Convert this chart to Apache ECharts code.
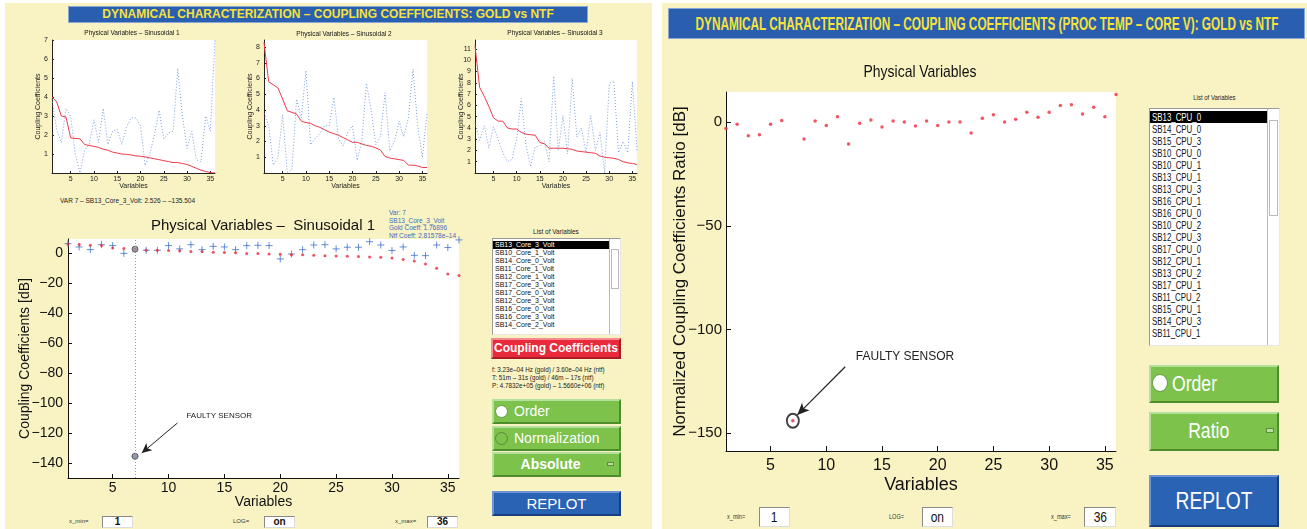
<!DOCTYPE html>
<html lang="en">
<head>
<meta charset="UTF-8">
<script src="https://cdn.jsdelivr.net/npm/echarts@6/dist/echarts.min.js"></script>
<style>
  body { margin: 0; width: 1307px; height: 529px; background: #fff; overflow: hidden;
         font-family: "Liberation Sans", Arial, sans-serif; }
  .abs { position: absolute; }
  .panel { position: absolute; background: #f9f3c3; }
  .bar { position: absolute; background: #2a5eae; color: #f6e23a; text-align: center;
         border: 1px solid #8aa6d6; box-sizing: border-box; white-space: nowrap; overflow: hidden; }
  .list { position: absolute; background: #fff; border: 1px solid #9a9a9a; box-sizing: border-box;
          border-right-color: #e8e8e8; border-bottom-color: #e8e8e8; overflow: hidden; }
  .list div { white-space: nowrap; padding-left: 2px; color: #111; }
  .list div.sel { background: #000; color: #fff; }
  .sb { position: absolute; top: 0; right: 0; bottom: 0; background: #fff; border-left: 1px solid #bbb; }
  .green { position: absolute; background: #7dc24b; box-sizing: border-box; color: #fff; white-space: nowrap;
           border: 2px solid; border-color: #b3e09a #4f8d2c #4f8d2c #b3e09a; }
  .red { position: absolute; background: #e92a3b; box-sizing: border-box; color: #fff; font-weight: bold;
         border: 2px solid; border-color: #f58a94 #a81c28 #a81c28 #f58a94; text-align: center; }
  .blue { position: absolute; background: #2a62b4; box-sizing: border-box; color: #fff; text-align: center;
          border: 2px solid; border-color: #6d95d6 #183f7d #183f7d #6d95d6; }
  .radio { position: absolute; border-radius: 50%; box-sizing: border-box; }
  .ind { position: absolute; background: #b9dda0; border: 1px solid #5b8f3a; box-sizing: border-box; }
  .box { position: absolute; background: #fff; border: 1px solid #888; box-sizing: border-box;
         border-right-color: #ddd; border-bottom-color: #ddd; text-align: center; font-weight: bold; color: #111; }
  .tiny { position: absolute; font-size: 6px; color: #333; white-space: nowrap; }
  .nx { display: inline-block; transform: scaleX(0.8); transform-origin: left center; }
  .nc { display: inline-block; transform: scaleX(0.8); transform-origin: center center; }
</style>
</head>
<body>
  <div class="panel" style="left:5px;top:3px;width:647px;height:526px"></div>
  <div class="panel" style="left:662px;top:3px;width:645px;height:526px"></div>

  <div class="bar" style="left:68px;top:6px;width:520px;height:17px;font-size:12px;font-weight:bold;line-height:15px">DYNAMICAL CHARACTERIZATION – COUPLING COEFFICIENTS: GOLD vs NTF</div>
  <div class="bar" style="left:668px;top:8px;width:637px;height:31px">
    <div style="position:absolute;left:50%;top:5px;font-size:18px;font-weight:bold;line-height:20px;transform:translateX(-50%) scaleX(0.655)">DYNAMICAL CHARACTERIZATION – COUPLING COEFFICIENTS (PROC TEMP – CORE V): GOLD vs NTF</div>
  </div>

  <div class="abs" style="left:60px;top:197px;font-size:6.5px;color:#222">VAR 7 – SB13_Core_3_Volt: 2.526 – –135.504</div>
  <div class="abs" style="left:389px;top:209px;font-size:6.5px;line-height:7.6px;color:#3b6dc1">Var: 7<br>SB13_Core_3_Volt<br>Gold Coeff: 1.76896<br>Ntf Coeff: 2.81578e–14</div>

  <!-- left controls -->
  <div class="abs" style="left:492px;top:228px;width:128px;text-align:center;font-size:6.5px;color:#222">List of Variables</div>
  <div class="list" id="listL" style="left:492px;top:238px;width:129px;height:97px;font-size:7px;line-height:8px;padding-top:2px"></div>
  <div class="red" style="left:491px;top:338px;width:130px;height:21px;font-size:12px;line-height:17px">Coupling Coefficients</div>
  <div class="abs" style="left:492px;top:366px;font-size:6.3px;line-height:8px;color:#222">f: 3.23e–04 Hz (gold) / 3.60e–04 Hz (ntf)<br>T: 51m – 31s (gold) / 46m – 17s (ntf)<br>P: 4.7832e+05 (gold) – 1.5660e+06 (ntf)</div>
  <div class="green" style="left:492px;top:399px;width:129px;height:25px;font-size:14px;line-height:21px;padding-left:20px">Order</div>
  <div class="radio" style="left:495px;top:405px;width:13px;height:13px;background:#fff;border:1px solid #6a9a4a"></div>
  <div class="green" style="left:492px;top:426px;width:129px;height:25px;font-size:14px;line-height:21px;padding-left:20px">Normalization</div>
  <div class="radio" style="left:495px;top:432px;width:13px;height:13px;border:1px solid #5b8a3a"></div>
  <div class="green" style="left:492px;top:452px;width:129px;height:25px;font-size:14px;line-height:21px;font-weight:bold;text-align:center;padding-right:12px">Absolute</div>
  <div class="ind" style="left:607px;top:462px;width:7px;height:4px"></div>
  <div class="blue" style="left:492px;top:491px;width:129px;height:25px;font-size:15px;line-height:21px">REPLOT</div>

  <div class="tiny" style="left:69px;top:518px">x_min=</div>
  <div class="box" style="left:102px;top:516px;width:31px;height:12px;font-size:10px;line-height:10px">1</div>
  <div class="tiny" style="left:233px;top:518px">LOG=</div>
  <div class="box" style="left:264px;top:516px;width:31px;height:12px;font-size:10px;line-height:10px">on</div>
  <div class="tiny" style="left:395px;top:518px">x_max=</div>
  <div class="box" style="left:427px;top:516px;width:31px;height:12px;font-size:10px;line-height:10px">36</div>

  <!-- right controls -->
  <div class="abs" style="left:1149px;top:93px;width:130px;text-align:center;font-size:7.5px;color:#222"><span class="nc">List of Variables</span></div>
  <div class="list" id="listR" style="left:1149px;top:108px;width:131px;height:238px;font-size:10.5px;line-height:12px;padding-top:2px"></div>
  <div class="green" style="left:1149px;top:365px;width:130px;height:38px;font-size:22px;line-height:33px;padding-left:21px"><span class="nx">Order</span></div>
  <div class="radio" style="left:1152px;top:374px;width:16px;height:18px;background:#fff;border:1px solid #6a9a4a"></div>
  <div class="green" style="left:1149px;top:412px;width:130px;height:39px;font-size:22px;line-height:34px;text-align:center;padding-right:10px"><span class="nc">Ratio</span></div>
  <div class="ind" style="left:1266px;top:428px;width:8px;height:5px"></div>
  <div class="blue" style="left:1149px;top:475px;width:130px;height:52px;font-size:24px;line-height:47px"><span class="nc">REPLOT</span></div>

  <div class="tiny" style="left:727px;top:513px;font-size:7px"><span class="nx">x_min=</span></div>
  <div class="box" style="left:759px;top:507px;width:31px;height:20px;font-size:15px;line-height:18px;font-weight:normal"><span class="nc">1</span></div>
  <div class="tiny" style="left:889px;top:513px;font-size:7px"><span class="nx">LOG=</span></div>
  <div class="box" style="left:922px;top:507px;width:31px;height:20px;font-size:15px;line-height:18px;font-weight:normal"><span class="nc">on</span></div>
  <div class="tiny" style="left:1051px;top:513px;font-size:7px"><span class="nx">x_max=</span></div>
  <div class="box" style="left:1084px;top:507px;width:32px;height:20px;font-size:15px;line-height:18px;font-weight:normal"><span class="nc">36</span></div>

  <div id="container" style="position:absolute;left:0;top:0;width:1307px;height:529px"></div>
  <script>
    // variable index (x) 1..36
    var xs = [1,2,3,4,5,6,7,8,9,10,11,12,13,14,15,16,17,18,19,20,21,22,23,24,25,26,27,28,29,30,31,32,33,34,35,36];

    // small charts: gold (red, sorted) and ntf (blue dotted)
    var sin1Gold = [4.0,3.75,3.0,2.95,1.85,1.82,1.8,1.5,1.45,1.4,1.35,1.25,1.2,1.1,1.05,1.0,0.98,0.95,0.9,0.88,0.85,0.8,0.75,0.7,0.65,0.6,0.55,0.55,0.5,0.45,0.35,0.25,0.15,0.08,0.02,0.0];
    var sin1Ntf = [3.9,2.3,1.6,3.4,3.0,1.0,0.0,1.2,1.5,2.8,1.6,3.4,1.5,2.2,2.3,1.5,2.4,2.9,2.9,2.5,0.4,1.0,2.0,3.3,1.8,2.1,2.2,5.5,3.0,1.3,2.2,0.7,0.6,3.0,2.2,7.0];
    var sin2Gold = [8.3,5.8,5.6,5.4,4.7,3.95,3.85,3.75,3.3,3.2,3.15,3.0,2.9,2.75,2.6,2.5,2.4,2.25,2.1,1.95,1.95,1.85,1.75,1.7,1.6,1.45,1.05,0.95,0.9,0.85,0.8,0.5,0.5,0.45,0.35,0.35];
    var sin2Ntf = [3.8,3.0,0.5,1.0,3.7,0.05,0.2,4.7,3.5,6.5,1.8,2.2,2.5,3.0,3.0,4.8,2.2,1.7,2.6,3.0,0.8,2.0,5.7,4.0,1.8,2.3,5.1,1.4,2.0,3.3,2.3,3.5,6.6,3.0,1.0,3.8];
    var sin3Gold = [11.3,7.6,6.8,5.9,4.9,4.6,4.6,4.0,3.9,3.9,3.6,3.45,3.4,3.35,2.7,2.6,2.2,2.2,2.2,2.2,2.15,2.1,1.95,1.9,1.85,1.8,1.75,1.5,1.4,1.35,1.3,1.2,1.0,0.9,0.85,0.75];
    var sin3Ntf = [4.5,2.9,4.2,2.2,4.1,3.0,1.8,1.0,1.2,3.0,6.6,2.5,0.6,2.3,2.4,2.8,1.0,8.6,2.0,5.1,1.7,8.4,3.2,4.0,1.8,5.1,2.0,3.6,0.0,7.9,8.2,1.8,2.8,1.8,8.1,2.0];

    // main left chart [dB]
    var dbGold = [6.0,5.6,5.1,4.9,3.3,2.9,2.526,1.8,1.8,1.6,1.5,0.9,1.0,0.5,0.3,0.2,-0.3,-0.4,-0.7,-0.8,-1.2,-1.2,-1.5,-1.8,-2.0,-2.2,-2.3,-2.7,-2.9,-3.4,-4.3,-5.4,-7.3,-10.2,-14.0,-15.0];
    var dbNtf = [6.2,4.0,2.2,5.5,4.9,-0.3,-135.504,1.8,1.8,4.9,2.7,5.5,2.2,4.4,4.0,2.2,4.9,5.1,4.9,-4.0,-0.7,2.2,5.3,5.5,2.7,3.8,3.8,7.5,5.3,1.6,4.0,-1.6,-1.8,5.3,3.6,8.7];
    var selVar = 7;

    // right chart: normalized ratio [dB]
    var ratioDb = [-3.1,-1.1,-6.6,-6.1,-1.1,0.8,-144,-8.2,0.5,-1.6,2.6,-10.6,-0.6,1.0,-2.4,0.5,0,-1.9,0.5,-1.6,0,0,-5.3,1.8,3.5,0,1.4,4.7,2.3,4.7,8.0,8.4,3.9,7.1,2.6,13.3];

    var listCore = ['SB13_Core_3_Volt','SB10_Core_1_Volt','SB14_Core_0_Volt','SB11_Core_1_Volt','SB12_Core_1_Volt','SB17_Core_3_Volt','SB17_Core_0_Volt','SB12_Core_3_Volt','SB16_Core_0_Volt','SB16_Core_3_Volt','SB14_Core_2_Volt'];
    var listCpu = ['SB13_CPU_0','SB14_CPU_0','SB15_CPU_3','SB10_CPU_0','SB10_CPU_1','SB13_CPU_1','SB13_CPU_3','SB16_CPU_1','SB16_CPU_0','SB10_CPU_2','SB12_CPU_3','SB17_CPU_0','SB12_CPU_1','SB13_CPU_2','SB17_CPU_1','SB11_CPU_2','SB15_CPU_1','SB14_CPU_3','SB11_CPU_1'];

    var xTicks = [5,10,15,20,25,30,35];

    function fillList(id, items, sbw, narrow) {
      var el = document.getElementById(id);
      var h = '';
      items.forEach(function (t, i) {
        var inner = narrow ? '<span class="nx" style="transform:scaleX(0.75)">' + t + '</span>' : t;
        h += '<div' + (i === 0 ? ' class="sel"' : '') + ' style="margin-right:' + (sbw + 2) + 'px">' + inner + '</div>';
      });
      h += '<div class="sb" style="width:' + sbw + 'px"><div style="position:absolute;left:1px;right:1px;top:' + (sbw + 2) + 'px;height:40%;border:1px solid #bbb"></div></div>';
      el.innerHTML = h;
    }
    fillList('listL', listCore, 8, false);
    fillList('listR', listCpu, 9, true);

    var pairs = function (arr) { return arr.map(function (v, i) { return [xs[i], v]; }); };
    var minus = function (v) { return String(v).replace('-', '\u2212'); };

    var SANS = '"Liberation Sans", Arial, sans-serif';

    var myChart = echarts.init(document.getElementById('container'), null, { renderer: 'canvas' });

    var smallGrids = [
      { left: 52, top: 40, width: 163, height: 133 },
      { left: 264, top: 40, width: 163, height: 133 },
      { left: 475, top: 40, width: 162, height: 133 }
    ];
    var smallMax = [7, 8.45, 11.8];
    var smallGold = [sin1Gold, sin2Gold, sin3Gold];
    var smallNtf = [sin1Ntf, sin2Ntf, sin3Ntf];

    var grids = [], xAxes = [], yAxes = [], series = [];
    smallGrids.forEach(function (g, k) {
      grids.push({ left: g.left, top: g.top, width: g.width, height: g.height, show: true, backgroundColor: '#fff', borderWidth: 0 });
      var yt = [];
      for (var v = 1; v <= Math.floor(smallMax[k]); v++) yt.push(v);
      xAxes.push({
        gridIndex: k, type: 'value', min: 1, max: 36,
        name: 'Variables', nameLocation: 'middle', nameGap: 10, nameMoveOverlap: false,
        nameTextStyle: { fontSize: 7, color: '#222', fontFamily: SANS },
        axisLine: { onZero: false, lineStyle: { color: '#222', width: 1 } },
        axisTick: { inside: true, length: 2, customValues: xTicks, lineStyle: { color: '#222' } },
        axisLabel: { customValues: xTicks, fontSize: 7, color: '#222', margin: 3, fontFamily: SANS },
        splitLine: { show: false }
      });
      yAxes.push({
        gridIndex: k, type: 'value', min: 0, max: smallMax[k],
        name: 'Coupling Coefficients', nameLocation: 'middle', nameGap: 10, nameRotate: 90, nameMoveOverlap: false,
        nameTextStyle: { fontSize: 7, color: '#222', fontFamily: SANS },
        axisLine: { show: true, onZero: false, lineStyle: { color: '#222', width: 1 } },
        axisTick: { show: true, inside: true, length: 2, customValues: yt, lineStyle: { color: '#222' } },
        axisLabel: { customValues: yt, fontSize: 7, color: '#222', margin: 4, fontFamily: SANS },
        splitLine: { show: false }
      });
      series.push({
        type: 'line', xAxisIndex: k, yAxisIndex: k, data: pairs(smallNtf[k]), showSymbol: false, silent: true,
        lineStyle: { color: '#7a9ddc', width: 1, type: [1, 2] }, z: 2
      });
      series.push({
        type: 'line', xAxisIndex: k, yAxisIndex: k, data: pairs(smallGold[k]), showSymbol: false, silent: true,
        lineStyle: { color: '#ec3b48', width: 1 }, z: 3
      });
    });

    // main left
    var yTicksL = [-140, -120, -100, -80, -60, -40, -20, 0];
    grids.push({ left: 68, top: 239, width: 391, height: 239, show: true, backgroundColor: '#fff', borderWidth: 0 });
    xAxes.push({
      gridIndex: 3, type: 'value', min: 1, max: 36,
      name: 'Variables', nameLocation: 'middle', nameGap: 17, nameMoveOverlap: false,
      nameTextStyle: { fontSize: 14, color: '#111', fontFamily: SANS },
      axisLine: { onZero: false, lineStyle: { color: '#111' } },
      axisTick: { inside: true, length: 4, customValues: xTicks, lineStyle: { color: '#111' } },
      axisLabel: { customValues: xTicks, fontSize: 14, color: '#111', margin: 3, fontFamily: SANS },
      splitLine: { show: false }
    });
    yAxes.push({
      gridIndex: 3, type: 'value', min: -150, max: 9.3,
      name: 'Coupling Coefficients [dB]', nameLocation: 'middle', nameGap: 36, nameRotate: 90, nameMoveOverlap: false,
      nameTextStyle: { fontSize: 14, color: '#111', fontFamily: SANS },
      axisLine: { show: true, onZero: false, lineStyle: { color: '#111' } },
      axisTick: { show: true, inside: true, length: 4, customValues: yTicksL, lineStyle: { color: '#111' } },
      axisLabel: { customValues: yTicksL, fontSize: 14, color: '#111', margin: 5, fontFamily: SANS, formatter: minus },
      splitLine: { show: false }
    });
    series.push({
      type: 'scatter', xAxisIndex: 3, yAxisIndex: 3, data: pairs(dbGold), symbol: 'circle', symbolSize: 3, silent: true,
      itemStyle: { color: '#e8283a' }, z: 3,
      markLine: {
        silent: true, symbol: 'none', label: { show: false },
        lineStyle: { color: '#9a9a9a', type: [1, 2], width: 1 },
        data: [{ xAxis: selVar }]
      }
    });
    series.push({
      type: 'scatter', xAxisIndex: 3, yAxisIndex: 3, data: pairs(dbNtf), symbol: 'path://M0,5L10,5M5,0L5,10',
      symbolSize: 7, silent: true, itemStyle: { color: 'rgba(0,0,0,0)', borderColor: '#3f72c8', borderWidth: 1 }, z: 2
    });
    series.push({
      type: 'scatter', xAxisIndex: 3, yAxisIndex: 3, silent: true, z: 4,
      data: [[selVar, dbGold[selVar - 1]], [selVar, dbNtf[selVar - 1]]],
      symbol: 'circle', symbolSize: 6, itemStyle: { color: '#8c8ea0', borderColor: '#444', borderWidth: 1 },
      markLine: {
        silent: true, symbol: ['none', 'arrow'], symbolSize: [7, 10], label: { show: false },
        lineStyle: { color: '#222', width: 1, type: 'solid' },
        data: [[{ coord: [10.8, -113.3] }, { coord: [7.6, -133.4] }]]
      },
      markPoint: {
        silent: true, symbol: 'rect', symbolSize: 0,
        label: { show: true, position: 'right', formatter: 'FAULTY SENSOR', fontSize: 8, color: '#222', fontFamily: SANS },
        data: [{ coord: [11.15, -108.7] }]
      }
    });

    // right chart
    var yTicksR = [-150, -100, -50, 0];
    grids.push({ left: 726, top: 92, width: 390, height: 359, show: true, backgroundColor: '#fff', borderWidth: 0 });
    xAxes.push({
      gridIndex: 4, type: 'value', min: 1, max: 36,
      name: 'Variables', nameLocation: 'middle', nameGap: 25, nameMoveOverlap: false,
      nameTextStyle: { fontSize: 18, color: '#111', fontFamily: SANS },
      axisLine: { onZero: false, lineStyle: { color: '#111' } },
      axisTick: { inside: true, length: 5, customValues: xTicks, lineStyle: { color: '#111' } },
      axisLabel: { customValues: xTicks, fontSize: 16, color: '#111', margin: 7, fontFamily: SANS },
      splitLine: { show: false }
    });
    yAxes.push({
      gridIndex: 4, type: 'value', min: -158.6, max: 14.5,
      name: 'Normalized Coupling Coefficients Ratio [dB]', nameLocation: 'middle', nameGap: 37, nameRotate: 90, nameMoveOverlap: false,
      nameTextStyle: { fontSize: 17, color: '#111', fontFamily: SANS },
      axisLine: { show: true, onZero: false, lineStyle: { color: '#111' } },
      axisTick: { show: true, inside: true, length: 5, customValues: yTicksR, lineStyle: { color: '#111' } },
      axisLabel: { customValues: yTicksR, fontSize: 15, color: '#111', margin: 4, fontFamily: SANS, formatter: minus },
      splitLine: { show: false }
    });
    series.push({
      type: 'scatter', xAxisIndex: 4, yAxisIndex: 4, data: pairs(ratioDb), symbol: 'circle', symbolSize: 3.5, silent: true,
      itemStyle: { color: '#ef2a3c' }, z: 3
    });
    series.push({
      type: 'scatter', xAxisIndex: 4, yAxisIndex: 4, silent: true, z: 2,
      data: [[selVar, ratioDb[selVar - 1]]], symbol: 'emptyCircle', symbolSize: [12, 14],
      itemStyle: { color: '#111', borderColor: '#111', borderWidth: 1.3 },
      markLine: {
        silent: true, symbol: ['none', 'arrow'], symbolSize: [8, 12], label: { show: false },
        lineStyle: { color: '#222', width: 1.2, type: 'solid' },
        data: [[{ coord: [11.7, -118] }, { coord: [7.4, -141.2] }]]
      },
      markPoint: {
        silent: true, symbol: 'rect', symbolSize: 0,
        label: { show: true, position: 'right', formatter: 'FAULTY SENSOR', fontSize: 12, color: '#222', fontFamily: SANS },
        data: [{ coord: [12.2, -113] }]
      }
    });

    var txt = function (x, y, t, font, sx) {
      return { type: 'text', x: x, y: y, scaleX: sx || 1, silent: true,
               style: { text: t, font: font, fill: '#111', align: 'center', verticalAlign: 'middle' } };
    };

    var option = {
      animation: false,
      grid: grids,
      xAxis: xAxes,
      yAxis: yAxes,
      series: series,
      graphic: [
        txt(132, 33, 'Physical Variables – Sinusoidal 1', '6.5px ' + SANS),
        txt(344, 34, 'Physical Variables – Sinusoidal 2', '6.5px ' + SANS),
        txt(555, 33, 'Physical Variables – Sinusoidal 3', '6.5px ' + SANS),
        txt(263, 226, 'Physical Variables –  Sinusoidal 1', '15px ' + SANS),
        txt(920, 72, 'Physical Variables', '17px ' + SANS, 0.82)
      ]
    };

    myChart.setOption(option);
  </script>
</body>
</html>
